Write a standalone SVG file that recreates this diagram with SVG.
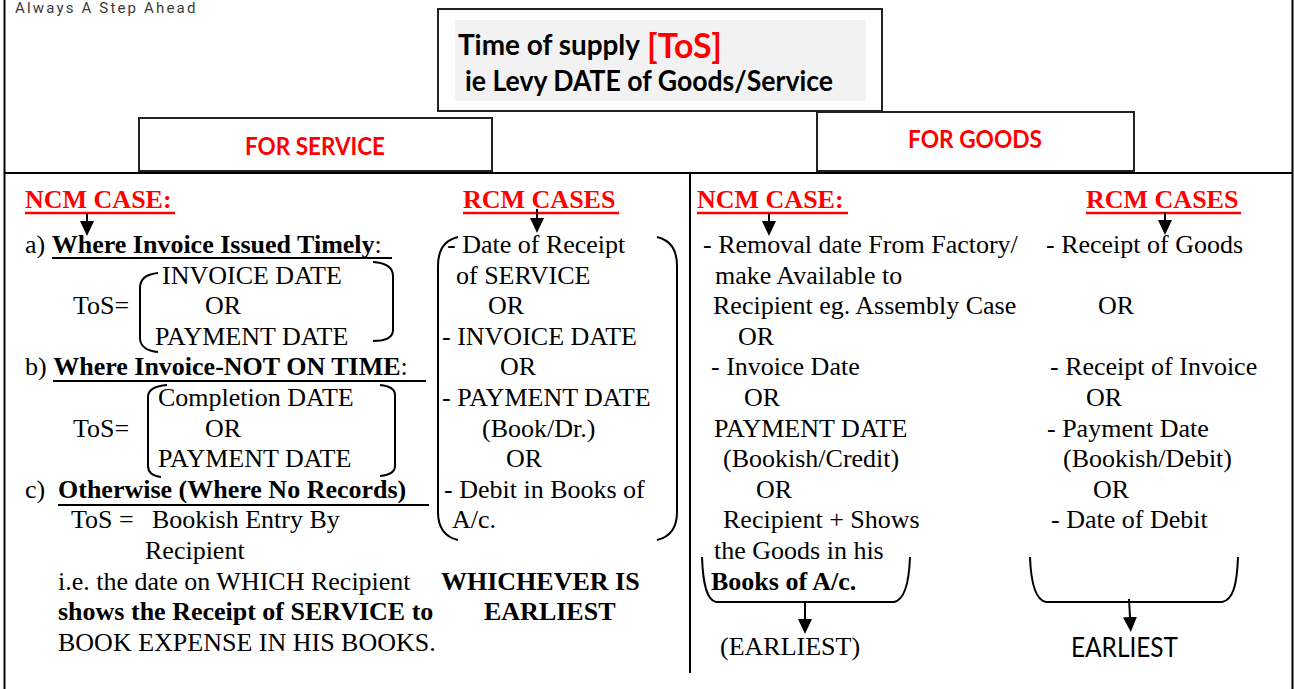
<svg xmlns="http://www.w3.org/2000/svg" width="1294" height="689" viewBox="0 0 1294 689">
<style>
.t{font-family:"Liberation Serif","Times New Roman",serif;font-size:26px;fill:#000}
.b{font-weight:bold}
.red{fill:#ff0000}
.s{font-family:Lato,"Liberation Sans",sans-serif;font-weight:bold}
.box{fill:#fff;stroke:#222;stroke-width:2}
.ln{stroke:#000;stroke-width:2;fill:none}
.ul{stroke:#000;stroke-width:2.2}
.ulr{stroke:#ff0000;stroke-width:2.5}
.br{stroke:#000;stroke-width:2;fill:none}
.arr{stroke:#000;stroke-width:2;fill:none;marker-end:url(#ah)}
</style>
<defs>
<marker id="ah" viewBox="0 0 15 14" refX="0" refY="7" markerWidth="15" markerHeight="14" markerUnits="userSpaceOnUse" orient="auto">
<path d="M0,0 L15,7 L0,14 z" fill="#000"/>
</marker>
</defs>
<rect width="1294" height="689" fill="#fff"/>
<g id="frame">
<line class="ln" x1="4.5" y1="0" x2="4.5" y2="689"/>
<line class="ln" x1="1292.5" y1="0" x2="1292.5" y2="689"/>
<line class="ln" x1="4" y1="173" x2="1293" y2="173"/>
<line class="ln" x1="690" y1="173" x2="690" y2="673"/>
</g>
<text x="15" y="13" style="font-family:Roboto,'Liberation Sans',sans-serif;font-size:15px;letter-spacing:1.6px;fill:#3a3a3a" textLength="182">Always A Step Ahead</text>
<g id="title">
<rect class="box" x="438" y="9" width="444" height="102" stroke-width="1.8"/>
<rect x="455" y="20" width="411" height="81" fill="#f2f2f2"/>
<text class="s" x="458" y="55" font-size="29" textLength="182" lengthAdjust="spacingAndGlyphs">Time of supply</text>
<text class="s red" x="647" y="58" font-size="34" textLength="75" lengthAdjust="spacingAndGlyphs">[ToS]</text>
<text class="s" x="465" y="91" font-size="29" textLength="368" lengthAdjust="spacingAndGlyphs">ie Levy DATE of Goods/Service</text>
</g>
<g id="for-service">
<rect class="box" x="139" y="118" width="353" height="53"/>
<text class="s red" x="315" y="155" font-size="25" text-anchor="middle" textLength="140" lengthAdjust="spacingAndGlyphs">FOR SERVICE</text>
</g>
<g id="for-goods">
<rect class="box" x="817" y="112" width="317" height="59"/>
<text class="s red" x="975" y="148" font-size="25" text-anchor="middle" textLength="134" lengthAdjust="spacingAndGlyphs">FOR GOODS</text>
</g>
<g id="service-ncm">
<text class="t b red" x="25" y="208">NCM CASE:</text>
<line class="ulr" x1="25" y1="213" x2="175" y2="213"/>
<text class="t" x="25" y="253">a) <tspan class="b">Where Invoice Issued Timely</tspan>:</text>
<line class="ul" x1="52" y1="258" x2="392" y2="258"/>
<text class="t" x="73" y="314">ToS=</text>
<text class="t" x="162" y="284">INVOICE DATE</text>
<text class="t" x="205" y="314">OR</text>
<text class="t" x="155" y="345">PAYMENT DATE</text>
<path class="br" d="M158,273 C147,274 140,279 140,288 L140,338 C140,346 147,351 158,352"/>
<path class="br" d="M373,262 C386,263 393,267 393,276 L393,330 C393,337 386,341 373,341"/>
<text class="t" x="25" y="375">b) <tspan class="b">Where Invoice-NOT ON TIME</tspan>:</text>
<line class="ul" x1="53" y1="381" x2="426" y2="381"/>
<text class="t" x="73" y="437">ToS=</text>
<text class="t" x="158" y="406">Completion DATE</text>
<text class="t" x="205" y="437">OR</text>
<text class="t" x="158" y="467">PAYMENT DATE</text>
<path class="br" d="M167,385 C155,386 148,390 148,397 L148,466 C148,472 153,476 161,477"/>
<path class="br" d="M380,385 C390,386 395,389 395,395 L395,466 C395,472 390,475 380,476"/>
<text class="t" x="25" y="498">c)  <tspan class="b" x="58">Otherwise (Where No Records)</tspan></text>
<line class="ul" x1="58" y1="505" x2="429" y2="505"/>
<text class="t" x="71" y="528">ToS = <tspan x="152">Bookish Entry By</tspan></text>
<text class="t" x="145" y="559">Recipient</text>
<text class="t" x="58" y="590">i.e. the date on WHICH Recipient</text>
<text class="t b" x="58" y="620">shows the Receipt of SERVICE to</text>
<text class="t" x="58" y="651">BOOK EXPENSE IN HIS BOOKS.</text>
</g>
<g id="service-rcm">
<text class="t b red" x="463" y="208">RCM CASES</text>
<line class="ulr" x1="463" y1="213" x2="619" y2="213"/>
<path class="br" d="M458,237 C445,240 438,250 438,266 L438,512 C438,528 445,537 458,540"/>
<path class="br" d="M657,237 C670,240 677,250 677,266 L677,512 C677,528 670,537 657,540"/>
<text class="t" x="447" y="253">- Date of Receipt</text>
<text class="t" x="456" y="284">of SERVICE</text>
<text class="t" x="488" y="314">OR</text>
<text class="t" x="442" y="345">- INVOICE DATE</text>
<text class="t" x="500" y="375">OR</text>
<text class="t" x="442" y="406">- PAYMENT DATE</text>
<text class="t" x="482" y="437">(Book/Dr.)</text>
<text class="t" x="506" y="467">OR</text>
<text class="t" x="444" y="498">- Debit in Books of</text>
<text class="t" x="452" y="528">A/c.</text>
<text class="t b" x="441" y="590">WHICHEVER IS</text>
<text class="t b" x="484" y="620">EARLIEST</text>
</g>
<g id="goods-ncm">
<text class="t b red" x="697" y="208">NCM CASE:</text>
<line class="ulr" x1="697" y1="213" x2="848" y2="213"/>
<text class="t" x="703" y="253">- Removal date From Factory/</text>
<text class="t" x="715" y="284">make Available to</text>
<text class="t" x="713" y="314">Recipient eg. Assembly Case</text>
<text class="t" x="738" y="345">OR</text>
<text class="t" x="711" y="375">- Invoice Date</text>
<text class="t" x="744" y="406">OR</text>
<text class="t" x="714" y="437">PAYMENT DATE</text>
<text class="t" x="723" y="467">(Bookish/Credit)</text>
<text class="t" x="756" y="498">OR</text>
<text class="t" x="723" y="528">Recipient + Shows</text>
<text class="t" x="714" y="559">the Goods in his</text>
<text class="t b" x="711" y="590">Books of A/c.</text>
<path class="br" d="M702,557 C703,585 707,600 716,602 L894,602 C904,600 909,585 910,557"/>
<text class="t" x="720" y="655">(EARLIEST)</text>
</g>
<g id="goods-rcm">
<text class="t b red" x="1086" y="208">RCM CASES</text>
<line class="ulr" x1="1086" y1="213" x2="1241" y2="213"/>
<text class="t" x="1046" y="253">- Receipt of Goods</text>
<text class="t" x="1098" y="314">OR</text>
<text class="t" x="1050" y="375">- Receipt of Invoice</text>
<text class="t" x="1086" y="406">OR</text>
<text class="t" x="1047" y="437">- Payment Date</text>
<text class="t" x="1063" y="467">(Bookish/Debit)</text>
<text class="t" x="1093" y="498">OR</text>
<text class="t" x="1051" y="528">- Date of Debit</text>
<path class="br" d="M1030,557 C1031,585 1036,600 1046,602 L1222,602 C1233,600 1237,585 1238,557"/>
<text x="1071" y="657" style="font-family:Lato,'Liberation Sans',sans-serif;font-size:26px" textLength="107" lengthAdjust="spacingAndGlyphs">EARLIEST</text>
</g>
<g id="connectors">
<line class="arr" x1="87" y1="213" x2="87" y2="221"/>
<line class="arr" x1="537" y1="209" x2="537" y2="218"/>
<line class="arr" x1="769" y1="213" x2="769" y2="221"/>
<line class="arr" x1="1165" y1="212" x2="1165" y2="220"/>
<line class="arr" x1="805" y1="602" x2="805" y2="619"/>
<line class="arr" x1="1129" y1="599" x2="1130" y2="617"/>
</g>
</svg>
